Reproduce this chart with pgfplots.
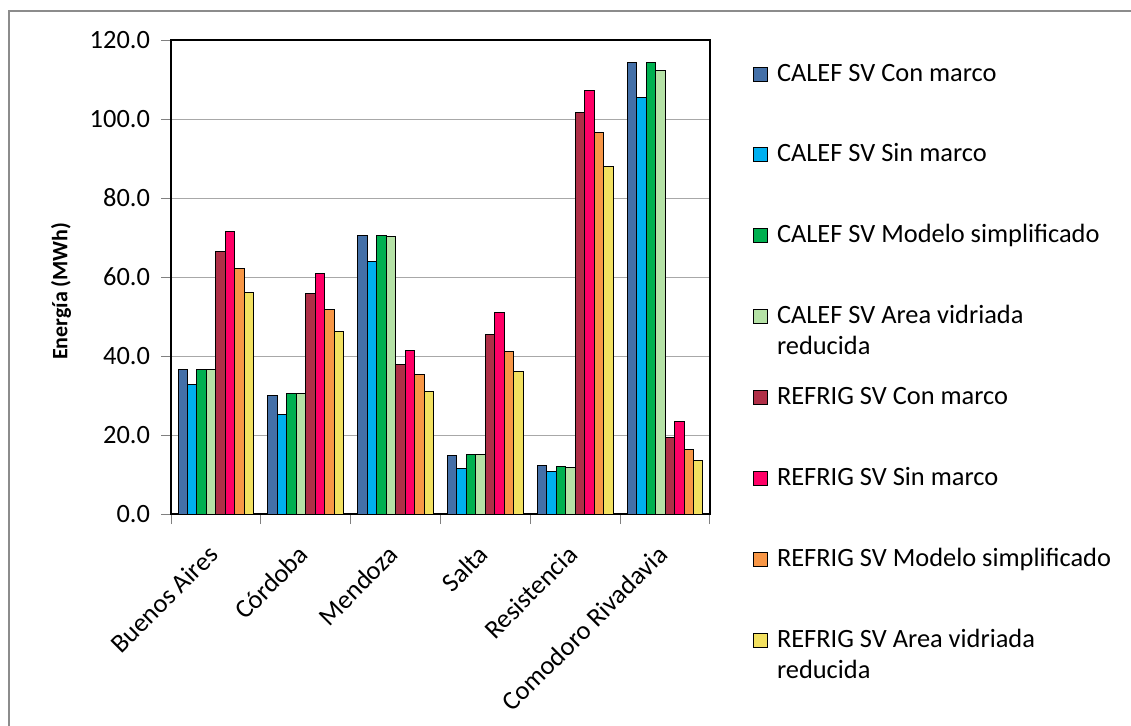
\documentclass[border=0pt]{standalone}
\usepackage{fontspec}
\setmainfont{Carlito}
\usepackage{pgfplots}
\pgfplotsset{compat=1.18}
\definecolor{c1}{HTML}{4470A8}
\definecolor{c2}{HTML}{00B0F0}
\definecolor{c3}{HTML}{00B050}
\definecolor{c4}{HTML}{B5E2A6}
\definecolor{c5}{HTML}{B02F47}
\definecolor{c6}{HTML}{FF0066}
\definecolor{c7}{HTML}{F79646}
\definecolor{c8}{HTML}{F2E060}
\definecolor{framegray}{HTML}{8C8C8C}
\definecolor{gridgray}{HTML}{A8A8A8}
\newcommand\lstrut{\rule[-4pt]{0pt}{14pt}}
\newcommand\two[2]{\lstrut\smash{\begin{tabular}[t]{@{}l@{}}#1\\#2\end{tabular}}}
\begin{document}
\begin{tikzpicture}
\useasboundingbox (0,0) rectangle (565.5pt,362.5pt);
\fill[white] (0,0) rectangle (565.5pt,362.5pt);
\draw[framegray, line width=0.6pt] (4.5pt,-2pt) -- (4.5pt,357pt) -- (570pt,357pt);
\begin{axis}[
  at={(85.5pt,105.5pt)}, anchor=south west,
  scale only axis, width=269.5pt, height=237pt,
  ybar=0pt, bar width=0.1055,
  legend image code/.code={\draw[#1, line width=0.5pt] (0pt,0pt) rectangle (7pt,7pt);},
  xmin=-0.5, xmax=5.5, ymin=0, ymax=120,
  ytick={0,20,...,120},
  xtick={-0.5,0.5,1.5,2.5,3.5,4.5,5.5},
  xticklabels={},
  extra x ticks={0,1,2,3,4,5},
  extra x tick labels={Buenos Aires, Córdoba, Mendoza, Salta, Resistencia, Comodoro Rivadavia},
  extra x tick style={major tick length=0pt, tick style={draw=none},
    xticklabel style={xshift=-4.5pt, yshift=-14.5pt, rotate=45, anchor=north east, inner sep=0pt}},
  tick align=outside,
  major tick length=5pt,
  tick style={color=gray, line width=0.5pt},
  xtick pos=bottom, ytick pos=left,
  ymajorgrids, grid style={color=gridgray, line width=0.5pt},
  axis line style={line width=0.6pt, black},
  /pgf/number format/assume math mode=true,
  y tick label style={xshift=-2pt, /pgf/number format/fixed, /pgf/number format/fixed zerofill, /pgf/number format/precision=1},
  tick label style={font=\fontsize{13.2}{15.5}\selectfont, black},
  ylabel={Energía (MWh)},
  ylabel style={at={(axis description cs:-0.204,0.47)}, anchor=center, font=\bfseries\fontsize{11}{13}\selectfont},
  legend style={at={(1.0798,0.964)}, anchor=north west, draw=none, fill=none, inner sep=0pt, outer sep=0pt,
    row sep=24.95pt, column sep=2.5pt, font=\fontsize{13.2}{15.5}\selectfont,
    cells={anchor=base west, inner sep=0pt}},
]
\addplot[fill=c1, draw=black, line width=0.5pt] coordinates {(0,36.7) (1,30.0) (2,70.6) (3,14.8) (4,12.4) (5,114.4)};
\addlegendentry{\lstrut CALEF SV Con marco}
\addplot[fill=c2, draw=black, line width=0.5pt] coordinates {(0,32.7) (1,25.2) (2,63.8) (3,11.4) (4,10.8) (5,105.5)};
\addlegendentry{\lstrut CALEF SV Sin marco}
\addplot[fill=c3, draw=black, line width=0.5pt] coordinates {(0,36.7) (1,30.4) (2,70.6) (3,15.1) (4,12.1) (5,114.4)};
\addlegendentry{\lstrut CALEF SV Modelo simplificado}
\addplot[fill=c4, draw=black, line width=0.5pt] coordinates {(0,36.7) (1,30.4) (2,70.3) (3,15.1) (4,11.8) (5,112.4)};
\addlegendentry{\two{CALEF SV Area vidriada}{reducida}}
\addplot[fill=c5, draw=black, line width=0.5pt] coordinates {(0,66.4) (1,55.9) (2,37.9) (3,45.4) (4,101.7) (5,19.3)};
\addlegendentry{\lstrut REFRIG SV Con marco}
\addplot[fill=c6, draw=black, line width=0.5pt] coordinates {(0,71.6) (1,60.8) (2,41.5) (3,51.0) (4,107.2) (5,23.3)};
\addlegendentry{\lstrut REFRIG SV Sin marco}
\addplot[fill=c7, draw=black, line width=0.5pt] coordinates {(0,62.2) (1,51.7) (2,35.3) (3,41.2) (4,96.7) (5,16.4)};
\addlegendentry{\lstrut REFRIG SV Modelo simplificado}
\addplot[fill=c8, draw=black, line width=0.5pt] coordinates {(0,56.2) (1,46.2) (2,31.0) (3,36.0) (4,88.0) (5,13.5)};
\addlegendentry{\two{REFRIG SV Area vidriada}{reducida}}
\end{axis}
\end{tikzpicture}
\end{document}
